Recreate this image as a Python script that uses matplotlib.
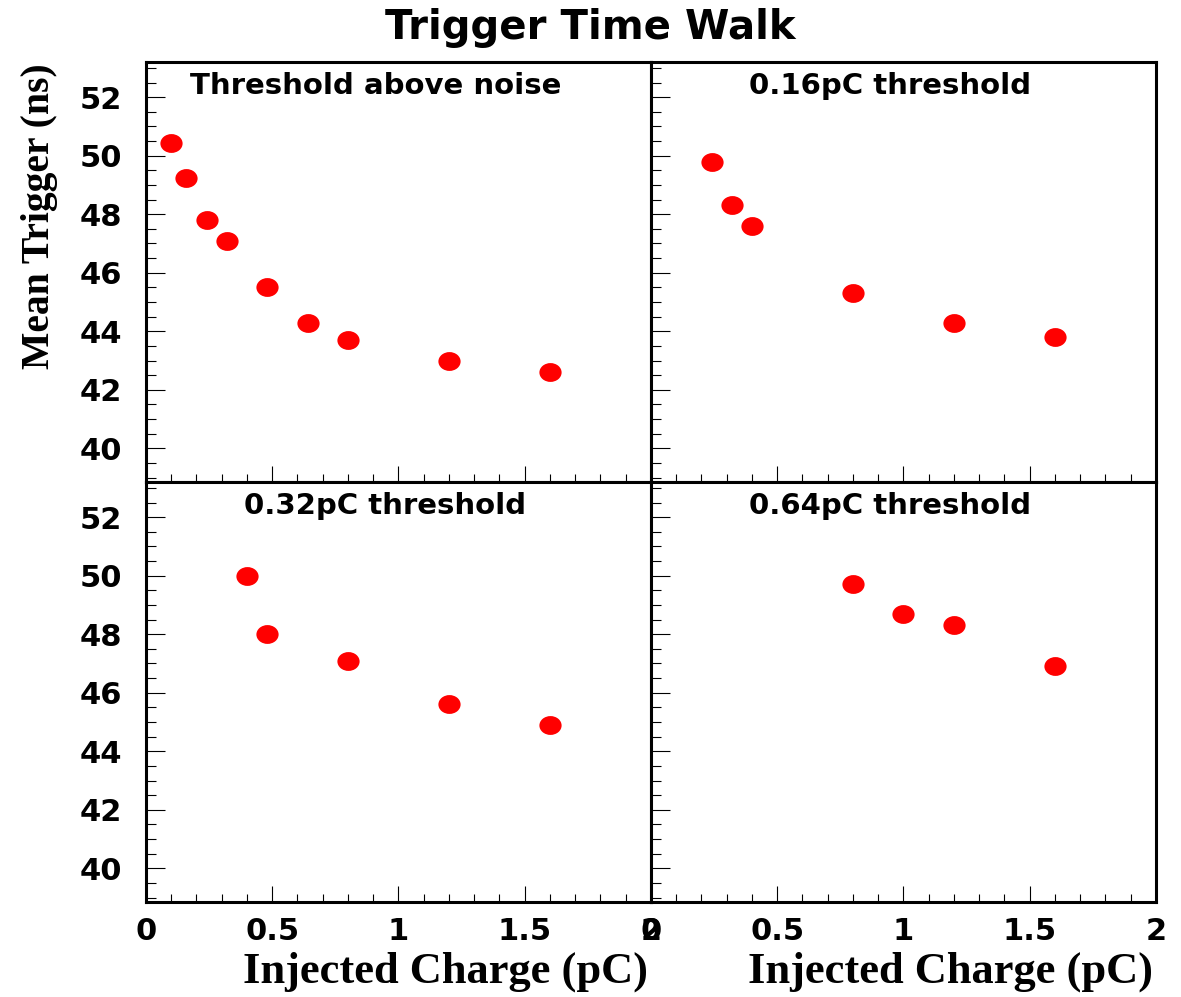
import matplotlib
matplotlib.use("Agg")
import matplotlib.pyplot as plt
from matplotlib.path import Path
from matplotlib.transforms import Affine2D
from matplotlib.ticker import MultipleLocator, FuncFormatter

# injected charge (pC) vs mean trigger time (ns), one pair per threshold
q_noise = [0.1, 0.16, 0.24, 0.32, 0.48, 0.64, 0.8, 1.2, 1.6]
t_noise = [50.45, 49.25, 47.8, 47.1, 45.5, 44.3, 43.7, 43.0, 42.6]

q_016 = [0.24, 0.32, 0.4, 0.8, 1.2, 1.6]
t_016 = [49.8, 48.3, 47.6, 45.3, 44.3, 43.8]

q_032 = [0.4, 0.48, 0.8, 1.2, 1.6]
t_032 = [50.0, 48.0, 47.1, 45.6, 44.9]

q_064 = [0.8, 1.0, 1.2, 1.6]
t_064 = [49.7, 48.7, 48.3, 46.9]

panel_labels = ["Threshold above noise", "0.16pC threshold",
                "0.32pC threshold", "0.64pC threshold"]

if __name__ == "__main__":
    fig = plt.figure(figsize=(11.81, 9.97), dpi=100)

    left, mid, right = 0.1236, 0.5512, 0.9787
    top, ymid, bottom = 0.9378, 0.5165, 0.0953
    w1, w2 = mid - left, right - mid
    h1, h2 = top - ymid, ymid - bottom
    rects = [(left, ymid, w1, h1), (mid, ymid, w2, h1),
             (left, bottom, w1, h2), (mid, bottom, w2, h2)]
    data = [(q_noise, t_noise), (q_016, t_016), (q_032, t_032), (q_064, t_064)]
    text_x = [0.455, 0.474, 0.474, 0.474]

    # slightly wide ellipse marker, like the stretched ROOT canvas
    ellipse = Path.unit_circle().transformed(Affine2D().scale(1.18, 1.0))

    tickfont = dict(family="DejaVu Sans", weight="bold", size=22)
    for i, (rect, (q, t)) in enumerate(zip(rects, data)):
        ax = fig.add_axes(rect)
        ax.plot(q, t, linestyle="none", marker=ellipse, markersize=16,
                color="red", markeredgewidth=0)
        ax.set_xlim(0, 2)
        ax.set_ylim(38.85, 53.2)
        for s in ax.spines.values():
            s.set_linewidth(2.2)
        ax.xaxis.set_major_locator(MultipleLocator(0.5))
        ax.xaxis.set_minor_locator(MultipleLocator(0.1))
        ax.yaxis.set_major_locator(MultipleLocator(2))
        ax.yaxis.set_minor_locator(MultipleLocator(0.5))
        ax.xaxis.set_major_formatter(FuncFormatter(lambda v, p: "%g" % v))
        ax.tick_params(which="both", direction="in", top=False, right=False,
                       width=0.8, color="black")
        ax.tick_params(axis="y", which="major", length=13.5, pad=17)
        ax.tick_params(axis="y", which="minor", length=7)
        ax.tick_params(axis="x", which="major", length=11.5, pad=11)
        ax.tick_params(axis="x", which="minor", length=5.5)
        ax.tick_params(labelleft=(i % 2 == 0), labelbottom=(i >= 2))
        for lab in ax.get_xticklabels() + ax.get_yticklabels():
            lab.set_fontproperties(tickfont)
        ax.text(text_x[i], 0.924, panel_labels[i], transform=ax.transAxes,
                ha="center", va="baseline", family="DejaVu Sans",
                weight="bold", size=21)
        if i >= 2:
            ax.text(0.995, -(983 - 902) / 420, "Injected Charge (pC)",
                    transform=ax.transAxes, ha="right", va="baseline",
                    family="Liberation Serif", weight="bold", size=32)

    fig.text(40 / 1181, 1 - 63 / 997, "Mean Trigger (ns)", rotation=90,
             ha="center", va="top", family="Liberation Serif",
             weight="bold", size=28.5)
    fig.text(0.5, 1 - 27.5 / 997, "Trigger Time Walk", ha="center",
             va="center", family="DejaVu Sans", weight="bold", size=29)

    fig.savefig("out.png", dpi=100)
